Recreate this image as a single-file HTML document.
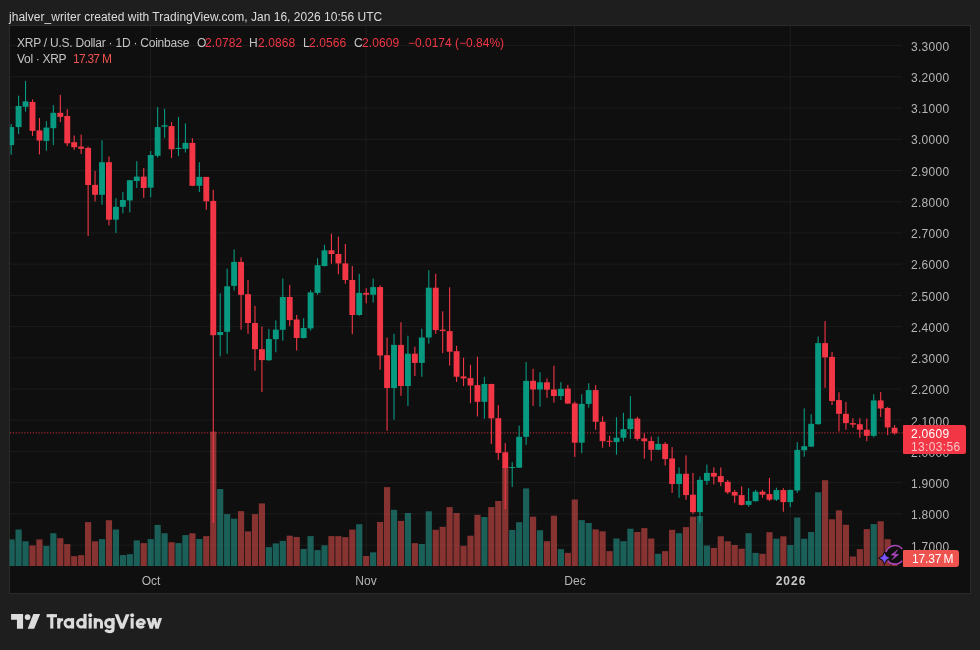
<!DOCTYPE html>
<html><head><meta charset="utf-8"><title>XRP chart</title>
<style>
html,body{margin:0;padding:0;}
body{width:980px;height:650px;background:#1e1e1e;overflow:hidden;position:relative;font-family:"Liberation Sans",sans-serif;}
#hdr,.pl,.tl,.leg,#plabel div,#vlabel div,#logo{will-change:transform;}
#hdr{position:absolute;left:9px;top:9px;font-size:12px;line-height:16px;color:#dcdcdc;white-space:nowrap;letter-spacing:0.03px;}
#chart{position:absolute;left:9.5px;top:25.5px;width:960px;height:567px;background:#0f0f0f;box-shadow:0 0 0 1px #2b2b2b;}
#plot{position:absolute;left:0;top:0;width:980px;height:650px;}
.pl{position:absolute;left:911.3px;letter-spacing:0.3px;width:60px;height:16px;line-height:16px;font-size:12px;color:#b5b5b5;white-space:nowrap;}
.tl{position:absolute;top:573px;width:60px;margin-left:-30px;text-align:center;height:16px;line-height:16px;font-size:12px;color:#b5b5b5;}
.leg{position:absolute;left:17px;font-size:12px;line-height:16px;color:#c4c4c4;white-space:nowrap;}
.leg.r{color:#f23645;}
.leg.v{color:#ef5350;}
#plabel{position:absolute;left:903px;top:425px;width:63px;height:29px;background:#f23645;border-radius:1px 2.5px 2.5px 1px;color:#fff;font-size:12px;}
#plabel div{position:absolute;left:7.8px;white-space:nowrap;height:14px;line-height:14px;}
#vlabel{z-index:5;position:absolute;left:903px;top:550.2px;width:56px;height:16.6px;background:#ef5350;border-radius:1px 3px 3px 1px;color:#fff;font-size:12px;}
#vlabel div{position:absolute;left:9.2px;top:2px;white-space:nowrap;height:14px;line-height:14px;}
</style></head><body>
<div id="hdr">jhalver_writer created with TradingView.com, Jan 16, 2026 10:56 UTC</div>
<div id="chart"></div>
<svg id="plot" width="980" height="650" viewBox="0 0 980 650" shape-rendering="geometricPrecision">
<g stroke="#1c1c1c" stroke-width="1"><line x1="10" x2="902" y1="45.6" y2="45.6"/><line x1="10" x2="902" y1="76.82" y2="76.82"/><line x1="10" x2="902" y1="108.04" y2="108.04"/><line x1="10" x2="902" y1="139.26" y2="139.26"/><line x1="10" x2="902" y1="170.48" y2="170.48"/><line x1="10" x2="902" y1="201.7" y2="201.7"/><line x1="10" x2="902" y1="232.92" y2="232.92"/><line x1="10" x2="902" y1="264.14" y2="264.14"/><line x1="10" x2="902" y1="295.36" y2="295.36"/><line x1="10" x2="902" y1="326.58" y2="326.58"/><line x1="10" x2="902" y1="357.8" y2="357.8"/><line x1="10" x2="902" y1="389.02" y2="389.02"/><line x1="10" x2="902" y1="420.24" y2="420.24"/><line x1="10" x2="902" y1="451.46" y2="451.46"/><line x1="10" x2="902" y1="482.68" y2="482.68"/><line x1="10" x2="902" y1="513.9" y2="513.9"/><line x1="10" x2="902" y1="545.12" y2="545.12"/><line x1="150.5" x2="150.5" y1="26" y2="566"/><line x1="366.1" x2="366.1" y1="26" y2="566"/><line x1="574.6" x2="574.6" y1="26" y2="566"/><line x1="790.3" x2="790.3" y1="26" y2="566"/></g>
<g fill="rgba(38,166,154,0.53)"><rect x="9.6" y="539.4" width="5.13" height="26.6"/><rect x="15.48" y="529.5" width="6.2" height="36.5"/><rect x="22.43" y="541.3" width="6.2" height="24.7"/><rect x="43.29" y="545.9" width="6.2" height="20.1"/><rect x="50.24" y="533.2" width="6.2" height="32.8"/><rect x="98.91" y="539.1" width="6.2" height="26.9"/><rect x="112.82" y="529.5" width="6.2" height="36.5"/><rect x="119.77" y="555.1" width="6.2" height="10.9"/><rect x="126.72" y="554.2" width="6.2" height="11.8"/><rect x="133.68" y="540.4" width="6.2" height="25.6"/><rect x="147.58" y="539.1" width="6.2" height="26.9"/><rect x="154.53" y="524.9" width="6.2" height="41.1"/><rect x="161.48" y="533.2" width="6.2" height="32.8"/><rect x="175.39" y="543.1" width="6.2" height="22.9"/><rect x="182.34" y="535.1" width="6.2" height="30.9"/><rect x="196.25" y="539" width="6.2" height="27"/><rect x="217.1" y="489" width="6.2" height="77"/><rect x="224.06" y="514.1" width="6.2" height="51.9"/><rect x="231.01" y="518.7" width="6.2" height="47.3"/><rect x="265.77" y="547.1" width="6.2" height="18.9"/><rect x="272.72" y="543.4" width="6.2" height="22.6"/><rect x="279.68" y="540.9" width="6.2" height="25.1"/><rect x="300.53" y="549" width="6.2" height="17"/><rect x="307.49" y="536.1" width="6.2" height="29.9"/><rect x="314.44" y="550.1" width="6.2" height="15.9"/><rect x="321.39" y="545.3" width="6.2" height="20.7"/><rect x="356.15" y="524.2" width="6.2" height="41.8"/><rect x="370.06" y="552.3" width="6.2" height="13.7"/><rect x="390.92" y="509.8" width="6.2" height="56.2"/><rect x="404.82" y="513" width="6.2" height="53"/><rect x="418.73" y="544" width="6.2" height="22"/><rect x="425.68" y="511.3" width="6.2" height="54.7"/><rect x="481.3" y="517" width="6.2" height="49"/><rect x="509.11" y="529.9" width="6.2" height="36.1"/><rect x="516.06" y="522.2" width="6.2" height="43.8"/><rect x="523.01" y="488.4" width="6.2" height="77.6"/><rect x="536.92" y="530.2" width="6.2" height="35.8"/><rect x="557.78" y="549.2" width="6.2" height="16.8"/><rect x="578.63" y="520.1" width="6.2" height="45.9"/><rect x="585.59" y="523" width="6.2" height="43"/><rect x="613.4" y="538.5" width="6.2" height="27.5"/><rect x="620.35" y="541.2" width="6.2" height="24.8"/><rect x="627.3" y="528.7" width="6.2" height="37.3"/><rect x="655.11" y="553.8" width="6.2" height="12.2"/><rect x="675.97" y="533.2" width="6.2" height="32.8"/><rect x="696.83" y="516" width="6.2" height="50"/><rect x="703.78" y="545.5" width="6.2" height="20.5"/><rect x="745.49" y="533.2" width="6.2" height="32.8"/><rect x="752.45" y="552.9" width="6.2" height="13.1"/><rect x="773.3" y="538.7" width="6.2" height="27.3"/><rect x="787.21" y="545" width="6.2" height="21"/><rect x="794.16" y="517.5" width="6.2" height="48.5"/><rect x="801.11" y="538.7" width="6.2" height="27.3"/><rect x="808.07" y="532" width="6.2" height="34"/><rect x="815.02" y="492.3" width="6.2" height="73.7"/><rect x="870.64" y="524.1" width="6.2" height="41.9"/></g>
<g fill="rgba(239,83,80,0.53)"><rect x="29.39" y="545.5" width="6.2" height="20.5"/><rect x="36.34" y="539.4" width="6.2" height="26.6"/><rect x="57.2" y="538.2" width="6.2" height="27.8"/><rect x="64.15" y="544.1" width="6.2" height="21.9"/><rect x="71.1" y="556.1" width="6.2" height="9.9"/><rect x="78.05" y="555.1" width="6.2" height="10.9"/><rect x="85.01" y="522.1" width="6.2" height="43.9"/><rect x="91.96" y="541.3" width="6.2" height="24.7"/><rect x="105.86" y="520.2" width="6.2" height="45.8"/><rect x="140.63" y="543.1" width="6.2" height="22.9"/><rect x="168.44" y="542.2" width="6.2" height="23.8"/><rect x="189.29" y="533.3" width="6.2" height="32.7"/><rect x="203.2" y="536.1" width="6.2" height="29.9"/><rect x="210.15" y="431.6" width="6.2" height="134.4"/><rect x="237.96" y="511.1" width="6.2" height="54.9"/><rect x="244.91" y="531.4" width="6.2" height="34.6"/><rect x="251.87" y="514.1" width="6.2" height="51.9"/><rect x="258.82" y="503.4" width="6.2" height="62.6"/><rect x="286.63" y="535.7" width="6.2" height="30.3"/><rect x="293.58" y="537" width="6.2" height="29"/><rect x="328.34" y="536.1" width="6.2" height="29.9"/><rect x="335.3" y="536.1" width="6.2" height="29.9"/><rect x="342.25" y="537.1" width="6.2" height="28.9"/><rect x="349.2" y="529.6" width="6.2" height="36.4"/><rect x="363.11" y="556" width="6.2" height="10"/><rect x="377.01" y="522" width="6.2" height="44"/><rect x="383.96" y="487.1" width="6.2" height="78.9"/><rect x="397.87" y="520.9" width="6.2" height="45.1"/><rect x="411.77" y="543.1" width="6.2" height="22.9"/><rect x="432.63" y="529.8" width="6.2" height="36.2"/><rect x="439.58" y="526.8" width="6.2" height="39.2"/><rect x="446.54" y="507.1" width="6.2" height="58.9"/><rect x="453.49" y="513" width="6.2" height="53"/><rect x="460.44" y="545.8" width="6.2" height="20.2"/><rect x="467.39" y="535.7" width="6.2" height="30.3"/><rect x="474.35" y="514.8" width="6.2" height="51.2"/><rect x="488.25" y="507.1" width="6.2" height="58.9"/><rect x="495.2" y="501" width="6.2" height="65"/><rect x="502.16" y="466.9" width="6.2" height="99.1"/><rect x="529.97" y="516.7" width="6.2" height="49.3"/><rect x="543.87" y="541.2" width="6.2" height="24.8"/><rect x="550.82" y="515.7" width="6.2" height="50.3"/><rect x="564.73" y="552.9" width="6.2" height="13.1"/><rect x="571.68" y="499.5" width="6.2" height="66.5"/><rect x="592.54" y="529.4" width="6.2" height="36.6"/><rect x="599.49" y="531.3" width="6.2" height="34.7"/><rect x="606.44" y="551.1" width="6.2" height="14.9"/><rect x="634.25" y="532" width="6.2" height="34"/><rect x="641.21" y="528.1" width="6.2" height="37.9"/><rect x="648.16" y="538.5" width="6.2" height="27.5"/><rect x="662.06" y="551.1" width="6.2" height="14.9"/><rect x="669.02" y="529.8" width="6.2" height="36.2"/><rect x="682.92" y="527.1" width="6.2" height="38.9"/><rect x="689.87" y="516.6" width="6.2" height="49.4"/><rect x="710.73" y="547.9" width="6.2" height="18.1"/><rect x="717.68" y="536.3" width="6.2" height="29.7"/><rect x="724.64" y="541.3" width="6.2" height="24.7"/><rect x="731.59" y="545" width="6.2" height="21"/><rect x="738.54" y="548.7" width="6.2" height="17.3"/><rect x="759.4" y="553.8" width="6.2" height="12.2"/><rect x="766.35" y="532.2" width="6.2" height="33.8"/><rect x="780.26" y="536.3" width="6.2" height="29.7"/><rect x="821.97" y="480.2" width="6.2" height="85.8"/><rect x="828.92" y="519.3" width="6.2" height="46.7"/><rect x="835.88" y="510.3" width="6.2" height="55.7"/><rect x="842.83" y="524.8" width="6.2" height="41.2"/><rect x="849.78" y="556.5" width="6.2" height="9.5"/><rect x="856.73" y="549.1" width="6.2" height="16.9"/><rect x="863.69" y="529.1" width="6.2" height="36.9"/><rect x="877.59" y="521.3" width="6.2" height="44.7"/><rect x="884.54" y="539.2" width="6.2" height="26.8"/><rect x="891.5" y="558.4" width="6.2" height="7.6"/></g>
<line x1="10" x2="903" y1="432.9" y2="432.9" stroke="#f23645" stroke-opacity="0.7" stroke-width="1.3" stroke-dasharray="1.1 1.757"/>
<g fill="#089981"><rect x="10.63" y="123.9" width="1.1" height="30.8"/><rect x="9.8" y="127.1" width="4.33" height="18"/><rect x="18.03" y="95.7" width="1.1" height="38.4"/><rect x="15.63" y="106" width="5.9" height="21.1"/><rect x="24.98" y="81.1" width="1.1" height="30.5"/><rect x="22.59" y="101.4" width="5.9" height="5.4"/><rect x="45.84" y="121.2" width="1.1" height="29.5"/><rect x="43.44" y="127.6" width="5.9" height="13.3"/><rect x="52.8" y="105.1" width="1.1" height="40"/><rect x="50.39" y="112.8" width="5.9" height="15.4"/><rect x="101.46" y="140.2" width="1.1" height="64.4"/><rect x="99.06" y="162.2" width="5.9" height="32.6"/><rect x="115.37" y="198.2" width="1.1" height="34.7"/><rect x="112.97" y="206.8" width="5.9" height="12.9"/><rect x="122.32" y="192" width="1.1" height="21.3"/><rect x="119.92" y="200" width="5.9" height="6.8"/><rect x="129.27" y="180" width="1.1" height="32.4"/><rect x="126.87" y="180.2" width="5.9" height="20.2"/><rect x="136.22" y="161.2" width="1.1" height="26.8"/><rect x="133.83" y="176.6" width="5.9" height="4.4"/><rect x="150.13" y="151" width="1.1" height="46.2"/><rect x="147.73" y="155" width="5.9" height="32.6"/><rect x="157.08" y="106.9" width="1.1" height="50.7"/><rect x="154.68" y="127.1" width="5.9" height="28.7"/><rect x="164.03" y="108.8" width="1.1" height="29"/><rect x="161.63" y="125.2" width="5.9" height="1.5"/><rect x="177.94" y="117.1" width="1.1" height="39.1"/><rect x="175.54" y="147.9" width="5.9" height="1.1"/><rect x="184.89" y="123.4" width="1.1" height="29.1"/><rect x="182.49" y="142.9" width="5.9" height="5.9"/><rect x="198.8" y="162.2" width="1.1" height="29.9"/><rect x="196.4" y="176.9" width="5.9" height="8.9"/><rect x="219.65" y="293.3" width="1.1" height="63.1"/><rect x="217.25" y="332" width="5.9" height="3.1"/><rect x="226.61" y="268.7" width="1.1" height="85.1"/><rect x="224.21" y="286.3" width="5.9" height="45.5"/><rect x="233.56" y="249.5" width="1.1" height="41"/><rect x="231.16" y="261.9" width="5.9" height="24"/><rect x="268.32" y="329" width="1.1" height="32"/><rect x="265.92" y="339" width="5.9" height="21.2"/><rect x="275.27" y="320.4" width="1.1" height="31.9"/><rect x="272.88" y="329.6" width="5.9" height="9.6"/><rect x="282.23" y="278.5" width="1.1" height="62.2"/><rect x="279.83" y="297" width="5.9" height="32.8"/><rect x="303.08" y="318.2" width="1.1" height="20.3"/><rect x="300.69" y="328" width="5.9" height="10"/><rect x="310.04" y="290.2" width="1.1" height="40.4"/><rect x="307.64" y="292.4" width="5.9" height="36"/><rect x="316.99" y="258.2" width="1.1" height="36.6"/><rect x="314.59" y="265.2" width="5.9" height="27.7"/><rect x="323.94" y="244.8" width="1.1" height="21.7"/><rect x="321.54" y="250.3" width="5.9" height="15.7"/><rect x="358.7" y="273.8" width="1.1" height="42"/><rect x="356.31" y="292.9" width="5.9" height="22.1"/><rect x="372.61" y="278.5" width="1.1" height="24"/><rect x="370.21" y="287.1" width="5.9" height="7.6"/><rect x="393.47" y="333.8" width="1.1" height="86"/><rect x="391.07" y="344.9" width="5.9" height="43.1"/><rect x="407.37" y="335.7" width="1.1" height="70.2"/><rect x="404.97" y="353.7" width="5.9" height="32.3"/><rect x="421.28" y="328.7" width="1.1" height="48.1"/><rect x="418.88" y="337.5" width="5.9" height="25.4"/><rect x="428.23" y="270.2" width="1.1" height="73.4"/><rect x="425.83" y="287.7" width="5.9" height="49.8"/><rect x="483.85" y="376.8" width="1.1" height="41.9"/><rect x="481.45" y="384" width="5.9" height="17.8"/><rect x="511.66" y="462.2" width="1.1" height="24.7"/><rect x="509.26" y="467" width="5.9" height="1"/><rect x="518.61" y="425.6" width="1.1" height="42.3"/><rect x="516.21" y="436.8" width="5.9" height="30.9"/><rect x="525.57" y="362" width="1.1" height="82.8"/><rect x="523.16" y="380.9" width="5.9" height="55.9"/><rect x="539.47" y="372.2" width="1.1" height="34.5"/><rect x="537.07" y="382.3" width="5.9" height="7.2"/><rect x="560.33" y="382.1" width="1.1" height="17.8"/><rect x="557.93" y="388.8" width="5.9" height="7.2"/><rect x="581.19" y="394.3" width="1.1" height="58.9"/><rect x="578.78" y="403.9" width="5.9" height="38.8"/><rect x="588.14" y="383.2" width="1.1" height="24.4"/><rect x="585.74" y="390.1" width="5.9" height="13.8"/><rect x="615.95" y="417.2" width="1.1" height="37.5"/><rect x="613.55" y="437.7" width="5.9" height="4.4"/><rect x="622.9" y="412.8" width="1.1" height="28.6"/><rect x="620.5" y="429.2" width="5.9" height="8.5"/><rect x="629.85" y="396.2" width="1.1" height="42.7"/><rect x="627.45" y="418.7" width="5.9" height="10.4"/><rect x="657.66" y="436.6" width="1.1" height="13.6"/><rect x="655.26" y="443.9" width="5.9" height="5.9"/><rect x="678.52" y="467.4" width="1.1" height="30.4"/><rect x="676.12" y="473.8" width="5.9" height="10.2"/><rect x="699.38" y="476.6" width="1.1" height="46.2"/><rect x="696.98" y="479.9" width="5.9" height="32.3"/><rect x="706.33" y="464.6" width="1.1" height="20.3"/><rect x="703.93" y="472.9" width="5.9" height="8"/><rect x="748.04" y="488.2" width="1.1" height="18.5"/><rect x="745.64" y="501" width="5.9" height="3.9"/><rect x="755" y="489.9" width="1.1" height="11.6"/><rect x="752.6" y="491.7" width="5.9" height="9.5"/><rect x="775.86" y="487.7" width="1.1" height="13.3"/><rect x="773.45" y="490.1" width="5.9" height="9.6"/><rect x="789.76" y="489.6" width="1.1" height="17.5"/><rect x="787.36" y="489.9" width="5.9" height="12.2"/><rect x="796.71" y="442.2" width="1.1" height="50.7"/><rect x="794.31" y="449.9" width="5.9" height="40.6"/><rect x="803.66" y="408.4" width="1.1" height="48.3"/><rect x="801.26" y="446.2" width="5.9" height="4.1"/><rect x="810.62" y="414.2" width="1.1" height="32.8"/><rect x="808.22" y="423.8" width="5.9" height="22.8"/><rect x="817.57" y="336.5" width="1.1" height="88.1"/><rect x="815.17" y="343.1" width="5.9" height="81.1"/><rect x="873.19" y="394.3" width="1.1" height="43.1"/><rect x="870.79" y="400.4" width="5.9" height="35.4"/></g>
<g fill="#f23645"><rect x="31.94" y="99.4" width="1.1" height="36.5"/><rect x="29.54" y="102" width="5.9" height="28.9"/><rect x="38.89" y="118" width="1.1" height="36.4"/><rect x="36.49" y="130.4" width="5.9" height="10.1"/><rect x="59.75" y="94.9" width="1.1" height="27.2"/><rect x="57.35" y="112.8" width="5.9" height="4.1"/><rect x="66.7" y="109.2" width="1.1" height="36.9"/><rect x="64.3" y="116" width="5.9" height="27.3"/><rect x="73.65" y="135.5" width="1.1" height="14.3"/><rect x="71.25" y="142.2" width="5.9" height="5"/><rect x="80.6" y="134.6" width="1.1" height="19.4"/><rect x="78.2" y="146.6" width="5.9" height="2.2"/><rect x="87.56" y="146.6" width="1.1" height="89.4"/><rect x="85.16" y="147.9" width="5.9" height="37.1"/><rect x="94.51" y="170.9" width="1.1" height="30.6"/><rect x="92.11" y="184.9" width="5.9" height="9.9"/><rect x="108.41" y="156.4" width="1.1" height="68.9"/><rect x="106.01" y="162.2" width="5.9" height="57.5"/><rect x="143.18" y="168" width="1.1" height="29.8"/><rect x="140.78" y="176.6" width="5.9" height="11.4"/><rect x="170.99" y="122.1" width="1.1" height="35.9"/><rect x="168.59" y="126.1" width="5.9" height="23.2"/><rect x="191.84" y="138.3" width="1.1" height="47.9"/><rect x="189.44" y="142.9" width="5.9" height="42.9"/><rect x="205.75" y="176.9" width="1.1" height="32.9"/><rect x="203.35" y="176.9" width="5.9" height="24.4"/><rect x="212.7" y="189.8" width="1.1" height="333.2"/><rect x="210.3" y="200.9" width="5.9" height="134.3"/><rect x="240.51" y="257.3" width="1.1" height="72.4"/><rect x="238.11" y="261.9" width="5.9" height="32.9"/><rect x="247.46" y="280" width="1.1" height="53.8"/><rect x="245.06" y="294.2" width="5.9" height="28.8"/><rect x="254.42" y="305.9" width="1.1" height="64.9"/><rect x="252.02" y="323" width="5.9" height="26.2"/><rect x="261.37" y="326.6" width="1.1" height="65.4"/><rect x="258.97" y="349.2" width="5.9" height="10.9"/><rect x="289.18" y="285" width="1.1" height="41"/><rect x="286.78" y="297" width="5.9" height="23.1"/><rect x="296.13" y="314.9" width="1.1" height="35.6"/><rect x="293.73" y="319.5" width="5.9" height="18.5"/><rect x="330.89" y="233.7" width="1.1" height="30.1"/><rect x="328.5" y="250.3" width="5.9" height="3.7"/><rect x="337.85" y="236.6" width="1.1" height="37.7"/><rect x="335.45" y="254" width="5.9" height="9.4"/><rect x="344.8" y="244" width="1.1" height="39.7"/><rect x="342.4" y="263.4" width="5.9" height="16.6"/><rect x="351.75" y="266" width="1.1" height="68.2"/><rect x="349.35" y="280" width="5.9" height="35"/><rect x="365.66" y="288.2" width="1.1" height="15.1"/><rect x="363.26" y="292.9" width="5.9" height="1.8"/><rect x="379.56" y="285.3" width="1.1" height="84.4"/><rect x="377.16" y="287.1" width="5.9" height="68.4"/><rect x="386.51" y="337.5" width="1.1" height="93.3"/><rect x="384.12" y="355.2" width="5.9" height="32.8"/><rect x="400.42" y="322.2" width="1.1" height="73.6"/><rect x="398.02" y="344.9" width="5.9" height="41.1"/><rect x="414.32" y="346.8" width="1.1" height="29.2"/><rect x="411.93" y="353.7" width="5.9" height="9.2"/><rect x="435.18" y="273.8" width="1.1" height="60"/><rect x="432.78" y="287.7" width="5.9" height="42.4"/><rect x="442.13" y="311.3" width="1.1" height="41.9"/><rect x="439.74" y="329.6" width="5.9" height="1.5"/><rect x="449.09" y="287.3" width="1.1" height="78.3"/><rect x="446.69" y="331.1" width="5.9" height="20.6"/><rect x="456.04" y="345.8" width="1.1" height="36.1"/><rect x="453.64" y="351.2" width="5.9" height="25.5"/><rect x="462.99" y="357.7" width="1.1" height="28.3"/><rect x="460.59" y="376.4" width="5.9" height="2"/><rect x="469.94" y="364.8" width="1.1" height="38.5"/><rect x="467.54" y="378.1" width="5.9" height="7.4"/><rect x="476.9" y="356.7" width="1.1" height="59.8"/><rect x="474.5" y="385.1" width="5.9" height="16.7"/><rect x="490.8" y="383.7" width="1.1" height="60.5"/><rect x="488.4" y="384" width="5.9" height="34.4"/><rect x="497.75" y="405.1" width="1.1" height="54.8"/><rect x="495.35" y="418.2" width="5.9" height="34.7"/><rect x="504.71" y="443" width="1.1" height="66"/><rect x="502.31" y="452.3" width="5.9" height="15.7"/><rect x="532.52" y="368.8" width="1.1" height="37"/><rect x="530.12" y="380.8" width="5.9" height="8.7"/><rect x="546.42" y="378.4" width="1.1" height="19.4"/><rect x="544.02" y="382.3" width="5.9" height="7.4"/><rect x="553.38" y="365.7" width="1.1" height="36.9"/><rect x="550.97" y="389.5" width="5.9" height="6.5"/><rect x="567.28" y="384.9" width="1.1" height="19"/><rect x="564.88" y="388.6" width="5.9" height="15"/><rect x="574.23" y="401.5" width="1.1" height="55.4"/><rect x="571.83" y="403.4" width="5.9" height="39.3"/><rect x="595.09" y="385.1" width="1.1" height="44.7"/><rect x="592.69" y="390.1" width="5.9" height="31.7"/><rect x="602.04" y="416.3" width="1.1" height="31.4"/><rect x="599.64" y="421.8" width="5.9" height="19.4"/><rect x="609" y="435.9" width="1.1" height="10.8"/><rect x="606.59" y="440.8" width="5.9" height="1"/><rect x="636.81" y="416.7" width="1.1" height="24"/><rect x="634.4" y="418.6" width="5.9" height="20.3"/><rect x="643.76" y="433.3" width="1.1" height="25.4"/><rect x="641.36" y="438.4" width="5.9" height="2.9"/><rect x="650.71" y="436.6" width="1.1" height="24.3"/><rect x="648.31" y="441" width="5.9" height="8.8"/><rect x="664.62" y="442.1" width="1.1" height="23.4"/><rect x="662.21" y="443.9" width="5.9" height="15.2"/><rect x="671.57" y="447.1" width="1.1" height="45.8"/><rect x="669.17" y="458.5" width="5.9" height="25.5"/><rect x="685.47" y="455.4" width="1.1" height="44.3"/><rect x="683.07" y="473.8" width="5.9" height="21.3"/><rect x="692.42" y="472.9" width="1.1" height="41.2"/><rect x="690.02" y="494.7" width="5.9" height="17.5"/><rect x="713.28" y="467.4" width="1.1" height="17.1"/><rect x="710.88" y="472.9" width="5.9" height="3.7"/><rect x="720.24" y="467.4" width="1.1" height="18.8"/><rect x="717.83" y="476.1" width="5.9" height="6"/><rect x="727.19" y="479.9" width="1.1" height="14.2"/><rect x="724.79" y="481.8" width="5.9" height="10.5"/><rect x="734.14" y="489.9" width="1.1" height="12.9"/><rect x="731.74" y="491.9" width="5.9" height="3.7"/><rect x="741.09" y="486.4" width="1.1" height="19.2"/><rect x="738.69" y="495.1" width="5.9" height="9.8"/><rect x="761.95" y="489.9" width="1.1" height="7.9"/><rect x="759.55" y="491.7" width="5.9" height="3"/><rect x="768.9" y="477.9" width="1.1" height="23.1"/><rect x="766.5" y="494.1" width="5.9" height="5.6"/><rect x="782.81" y="488.2" width="1.1" height="23.5"/><rect x="780.41" y="490.1" width="5.9" height="12"/><rect x="824.52" y="321.1" width="1.1" height="66.7"/><rect x="822.12" y="343.1" width="5.9" height="14.3"/><rect x="831.48" y="351.8" width="1.1" height="53.2"/><rect x="829.07" y="356.9" width="5.9" height="44.1"/><rect x="838.43" y="392.3" width="1.1" height="39.2"/><rect x="836.03" y="400.1" width="5.9" height="13.7"/><rect x="845.38" y="401.9" width="1.1" height="27.8"/><rect x="842.98" y="413.8" width="5.9" height="9.3"/><rect x="852.33" y="418.2" width="1.1" height="9.5"/><rect x="849.93" y="423.1" width="5.9" height="1.5"/><rect x="859.28" y="418.2" width="1.1" height="19.5"/><rect x="856.88" y="424.2" width="5.9" height="5.5"/><rect x="866.24" y="418.5" width="1.1" height="22.7"/><rect x="863.84" y="429.7" width="5.9" height="6.1"/><rect x="880.14" y="392" width="1.1" height="24.9"/><rect x="877.74" y="400.4" width="5.9" height="8.1"/><rect x="887.1" y="406.9" width="1.1" height="28.2"/><rect x="884.69" y="408" width="5.9" height="19.4"/><rect x="894.05" y="425.1" width="1.1" height="9.5"/><rect x="891.65" y="427.8" width="5.9" height="5.4"/></g>
</svg>
<div class="pl" style="top:38.5px">3.3000</div>
<div class="pl" style="top:69.75px">3.2000</div>
<div class="pl" style="top:101px">3.1000</div>
<div class="pl" style="top:132.25px">3.0000</div>
<div class="pl" style="top:163.5px">2.9000</div>
<div class="pl" style="top:194.75px">2.8000</div>
<div class="pl" style="top:226px">2.7000</div>
<div class="pl" style="top:257.25px">2.6000</div>
<div class="pl" style="top:288.5px">2.5000</div>
<div class="pl" style="top:319.75px">2.4000</div>
<div class="pl" style="top:351px">2.3000</div>
<div class="pl" style="top:382.25px">2.2000</div>
<div class="pl" style="top:413.5px">2.1000</div>
<div class="pl" style="top:444.75px">2.0000</div>
<div class="pl" style="top:476px">1.9000</div>
<div class="pl" style="top:507.25px">1.8000</div>
<div class="pl" style="top:538.5px">1.7000</div>
<div class="tl" style="left:150.5px">Oct</div>
<div class="tl" style="left:366px">Nov</div>
<div class="tl" style="left:574.5px">Dec</div>
<div class="tl" style="left:791px;font-weight:bold;color:#c8c8c8;letter-spacing:1px">2026</div>
<div class="leg" style="top:35px;left:17px;letter-spacing:-0.233px" id="ttl">XRP / U.S. Dollar · 1D · Coinbase</div>
<div class="leg" style="top:35px;left:196.6px">O</div><div class="leg r" style="top:35px;left:205.3px;letter-spacing:0.1px">2.0782</div>
<div class="leg" style="top:35px;left:248.8px">H</div><div class="leg r" style="top:35px;left:257.6px;letter-spacing:0.1px">2.0868</div>
<div class="leg" style="top:35px;left:302.6px">L</div><div class="leg r" style="top:35px;left:309.2px;letter-spacing:0.1px">2.0566</div>
<div class="leg" style="top:35px;left:353.8px">C</div><div class="leg r" style="top:35px;left:362.2px;letter-spacing:0.1px">2.0609</div>
<div class="leg r" style="top:35px;left:407.6px">−0.0174 (−0.84%)</div>
<div class="leg" style="top:51px;left:17px;letter-spacing:-0.3px" id="leg2">Vol · XRP</div>
<div class="leg v" style="top:51px;left:72.6px;letter-spacing:-0.75px" id="volv">17.37</div><div class="leg v" style="top:51px;left:101.6px">M</div>
<div id="plabel"><div style="top:1.5px;letter-spacing:0.3px">2.0609</div><div style="top:14.5px;color:#fbc3c7;letter-spacing:0.34px">13:03:56</div></div>
<div id="vlabel"><div style="letter-spacing:-0.15px">17.37<span style="margin-left:2.2px">M</span></div></div>
<svg id="icon" style="position:absolute;left:874px;top:540px" width="32" height="30" viewBox="874 540 32 30">
<circle cx="895" cy="554.75" r="10.1" fill="#0f0f0f"/>
<path d="M902.2 549.0 A9.35 9.35 0 0 0 886.0 552.0" fill="none" stroke="#ab47bc" stroke-width="1.55"/>
<path d="M887.6 560.5 A9.35 9.35 0 0 0 902.2 560.7" fill="none" stroke="#ab47bc" stroke-width="1.55"/>
<path d="M897.7 549.7 L891.0 554.9 L895.0 555.5 L891.9 559.9 L898.8 554.5 L894.7 554.0 Z" fill="#ab47bc" stroke="#ab47bc" stroke-width="0.4" stroke-linejoin="round"/>
<path d="M884.5 552.8 Q885.55 557.05 889.8 558.1 Q885.55 559.15 884.5 563.4 Q883.45 559.15 879.2 558.1 Q883.45 557.05 884.5 552.8 Z" fill="#7a52ff" stroke="#0f0f0f" stroke-width="1.8" stroke-linejoin="round" paint-order="stroke"/>
</svg>
<svg id="logo" width="980" height="650" viewBox="0 0 980 650" style="position:absolute;left:0;top:0" role="img" aria-label="TradingView"><title>TradingView</title>
<g fill="#dcdcdc">
<path d="M11.08 614.08H23.07V628.84H16.94V619.84H11.08Z"/>
<circle cx="27.6" cy="617.08" r="2.9"/>
<path d="M33.32 614.08H40.15L34.15 628.84H27.69Z"/>
<rect x="46.6" y="614.15" width="10.4" height="3.1"/><rect x="50.25" y="614.15" width="3.1" height="14.4"/><rect x="57.2" y="618.1" width="3.1" height="10.45"/><path d="M58.75 624 Q58.75 619.6 63.1 619.6" fill="none" stroke="#dcdcdc" stroke-width="2.9"/><circle cx="68.8" cy="623.3" r="3.8" fill="none" stroke="#dcdcdc" stroke-width="2.8"/><rect x="71" y="618.1" width="3.1" height="10.45"/><circle cx="81.3" cy="623.3" r="3.8" fill="none" stroke="#dcdcdc" stroke-width="2.8"/><rect x="83.45" y="613.9" width="3.1" height="14.65"/><rect x="88.65" y="618.1" width="3.1" height="10.45"/><circle cx="90.2" cy="615.3" r="1.95"/><rect x="93.7" y="618.1" width="3.1" height="10.45"/><path d="M95.25 623 A3.125 3.125 0 0 1 101.5 623 V628.55" fill="none" stroke="#dcdcdc" stroke-width="3"/><circle cx="109.35" cy="623.3" r="3.8" fill="none" stroke="#dcdcdc" stroke-width="2.8"/><path d="M113.05 618.1 V628.4 Q113.05 631.7 109.4 631.7 Q106.7 631.7 105.5 629.9" fill="none" stroke="#dcdcdc" stroke-width="3.1"/><path d="M114.65 614.15H118.35L123.95 628.55H120.25Z"/><path d="M125.85 614.15H129.55L123.95 628.55H120.25Z"/><rect x="130.6" y="618.1" width="3.1" height="10.45"/><circle cx="132.15" cy="615.2" r="1.95"/><path d="M137.3 623.75 H144.4" fill="none" stroke="#dcdcdc" stroke-width="2.6"/><path d="M144.6 623.6 A3.8 3.8 0 1 0 143.8 625.8" fill="none" stroke="#dcdcdc" stroke-width="2.8"/><path d="M146.4 618.1H149.5L152.85 628.55H149.75Z"/><path d="M152.65 618.1H155.75L152.85 628.55H149.75Z"/><path d="M152.65 618.1H155.75L158.65 628.55H155.55Z"/><path d="M158.9 618.1H162L158.65 628.55H155.55Z"/>
</g>
</svg>
</body></html>
